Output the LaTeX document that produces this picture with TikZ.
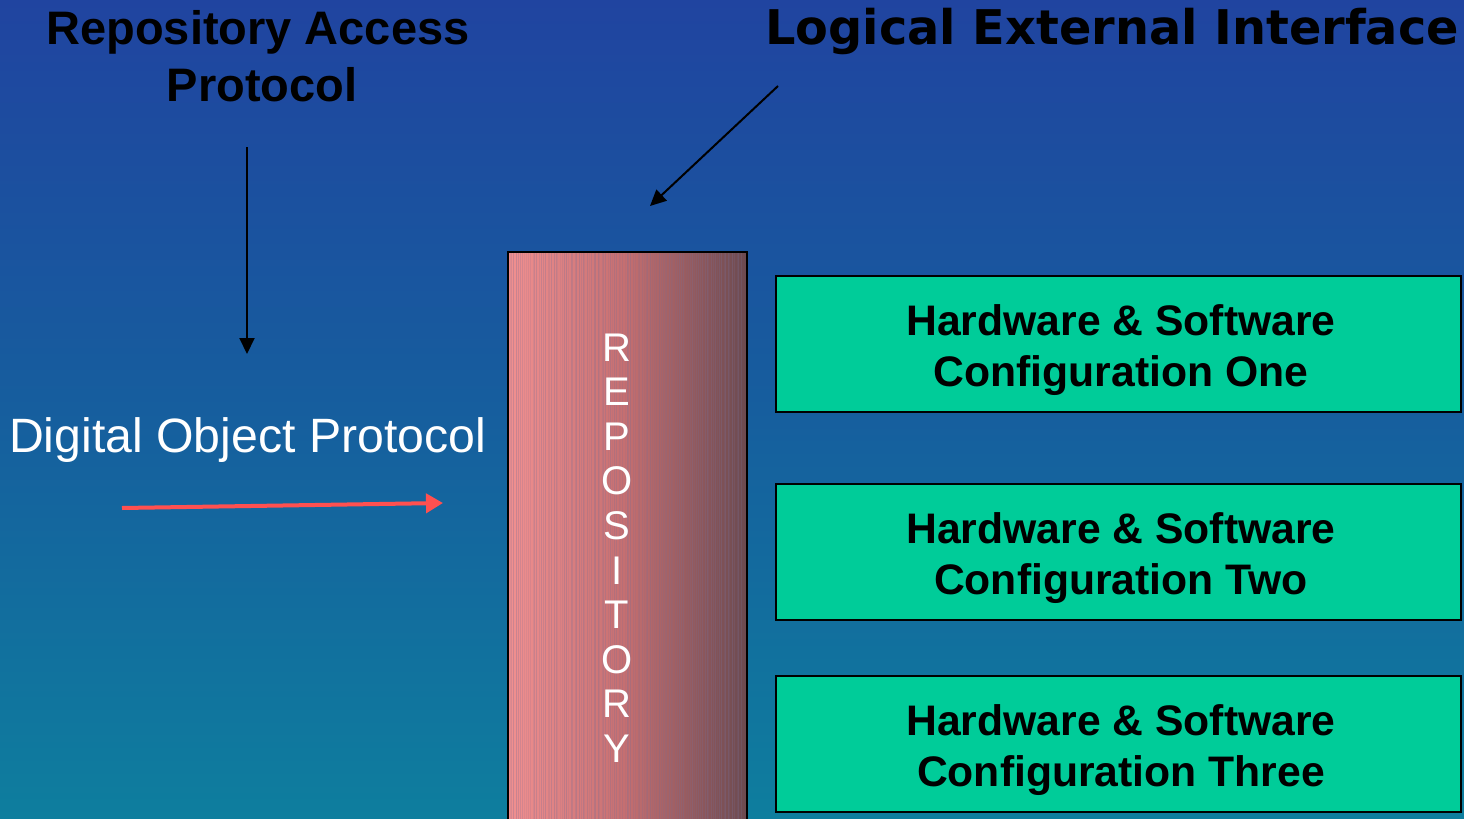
\documentclass[tikz,border=0pt]{standalone}
\usepackage{fontspec}
\setmainfont{Liberation Sans}
\newfontfamily\verdanalike{DejaVu Sans}
\usetikzlibrary{arrows.meta}
\definecolor{bgtop}{RGB}{32,68,160}
\definecolor{bgbot}{RGB}{14,126,158}
\definecolor{bgmid}{RGB}{22,94,158}
\definecolor{boxgreen}{RGB}{0,204,153}
\definecolor{pinkL}{RGB}{242,144,144}
\definecolor{pinkM}{RGB}{196,110,112}
\definecolor{pinkR}{RGB}{108,74,80}
\definecolor{stripe}{RGB}{120,110,150}
\definecolor{redarrow}{RGB}{255,80,80}
\tikzset{
  title/.style={font=\fontsize{47bp}{56bp}\selectfont\bfseries, text=black, anchor=base, inner sep=0pt},
  bigtitle/.style={font=\verdanalike\fontsize{47.8bp}{56bp}\selectfont\bfseries, text=black, anchor=base, inner sep=0pt},
  plain/.style={font=\fontsize{48.2bp}{56bp}\selectfont, text=white, anchor=base, inner sep=0pt},
  letter/.style={font=\fontsize{40bp}{44bp}\selectfont, text=white, anchor=base, inner sep=0pt},
  cfgbox/.style={draw=black, line width=2bp, fill=boxgreen, minimum width=685bp, minimum height=136bp, inner sep=0pt},
  cfgtext/.style={font=\fontsize{42.7bp}{51bp}\selectfont\bfseries, text=black, anchor=base, inner sep=0pt},
  blackarrow/.style={draw=black, line width=2bp, -{Triangle[length=16bp,width=15bp]}},
  redarr/.style={draw=redarrow, line width=4bp, -{Triangle[length=17bp,width=19bp]}},
}
\begin{document}
\begin{tikzpicture}[x=1bp,y=-1bp]
\useasboundingbox (0,0) rectangle (1464,818);
\clip (0,0) rectangle (1464,818);
\shade[top color=bgtop, bottom color=bgbot, middle color=bgmid] (0,0) rectangle (1464,818);

% titles
\node[title] (rap1) at (258,45) {Repository Access};
\node[title] (rap2) at (262,101) {Protocol};
\node[bigtitle] (lei) at (1112,45) {Logical External Interface};

% arrows
\coordinate (a1s) at (247,147);
\coordinate (a1e) at (247,354);
\draw[blackarrow] (a1s) -- (a1e);
\coordinate (a2s) at (778,86);
\coordinate (a2e) at (650,206);
\draw[blackarrow] (a2s) -- (a2e);

\node[plain] (dop) at (247.5,452) {Digital Object Protocol};
\coordinate (a3s) at (122,508);
\coordinate (a3e) at (443,503);
\draw[redarr] (a3s) -- (a3e);

% repository
\shade[left color=pinkL, right color=pinkR, middle color=pinkM] (507,251) rectangle (746,830);
\pgfmathsetseed{7}
\foreach \i in {0,...,110}{
  \pgfmathsetmacro{\xx}{509+2.1*\i+rnd*1.2}
  \pgfmathsetmacro{\op}{0.10+0.22*rnd}
  \draw[stripe, opacity=\op, line width=0.8bp] (\xx,252) -- (\xx,830);
}
\node[draw=black, line width=2bp, minimum width=239bp, minimum height=579bp, inner sep=0pt, anchor=north west] (repo) at (507,251) {};
\foreach \ch [count=\k from 0] in {R,E,P,O,S,I,T,O,R,Y}{
  \pgfmathsetmacro{\yy}{361+44.6*\k}
  \node[letter] (L\k) at (617,\yy) {\ch};
}

% configuration boxes
\node[cfgbox, anchor=north west] (c1) at (775,275) {};
\node[cfgbox, anchor=north west] (c2) at (775,483) {};
\node[cfgbox, anchor=north west] (c3) at (775,675) {};
\node[cfgtext] (c1a) at (1121,335) {Hardware \& Software};
\node[cfgtext] (c1b) at (1121,386) {Configuration One};
\node[cfgtext] (c2a) at (1121,543) {Hardware \& Software};
\node[cfgtext] (c2b) at (1121,594) {Configuration Two};
\node[cfgtext] (c3a) at (1121,735) {Hardware \& Software};
\node[cfgtext] (c3b) at (1121,786) {Configuration Three};
\end{tikzpicture}
\end{document}
